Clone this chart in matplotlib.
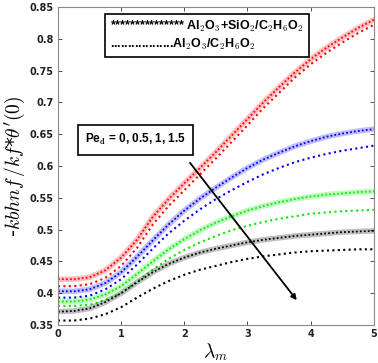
import numpy as np
import matplotlib
matplotlib.use('Agg')
import matplotlib.pyplot as plt

# ---------------------------------------------------------------
# data (lambda_m on x, -kbhnf/kf*theta'(0) on y)
# ---------------------------------------------------------------
lam = np.arange(0, 5.01, 0.25)

# hybrid Al2O3+SiO2/C2H6O2 (star curves), Pe_d = 0, 0.5, 1, 1.5
hyb_pe0 = [0.422, 0.422, 0.425, 0.436, 0.456, 0.484, 0.520, 0.548, 0.573, 0.597, 0.622,
           0.648, 0.674, 0.700, 0.724, 0.747, 0.768, 0.786, 0.802, 0.817, 0.830]
hyb_pe05 = [0.403, 0.403, 0.406, 0.416, 0.433, 0.457, 0.483, 0.508, 0.530, 0.549, 0.566,
            0.582, 0.597, 0.610, 0.621, 0.631, 0.639, 0.646, 0.651, 0.655, 0.658]
hyb_pe1 = [0.387, 0.387, 0.390, 0.398, 0.411, 0.430, 0.450, 0.469, 0.485, 0.499, 0.511,
           0.521, 0.530, 0.537, 0.543, 0.548, 0.552, 0.555, 0.557, 0.559, 0.560]
hyb_pe15 = [0.371, 0.372, 0.376, 0.386, 0.400, 0.417, 0.433, 0.446, 0.456, 0.464, 0.470,
            0.475, 0.480, 0.484, 0.487, 0.490, 0.492, 0.494, 0.496, 0.497, 0.498]

# mono Al2O3/C2H6O2 (dotted curves)
mono_pe0 = [0.411, 0.411, 0.414, 0.424, 0.443, 0.471, 0.508, 0.537, 0.562, 0.587, 0.612,
            0.638, 0.664, 0.691, 0.715, 0.739, 0.760, 0.778, 0.794, 0.809, 0.822]
mono_pe05 = [0.393, 0.393, 0.396, 0.406, 0.422, 0.445, 0.470, 0.494, 0.514, 0.532, 0.548,
             0.562, 0.575, 0.587, 0.597, 0.606, 0.613, 0.619, 0.624, 0.628, 0.632]
mono_pe1 = [0.380, 0.380, 0.382, 0.389, 0.400, 0.418, 0.437, 0.454, 0.468, 0.480, 0.490,
            0.499, 0.506, 0.512, 0.517, 0.521, 0.525, 0.527, 0.529, 0.530, 0.531]
mono_pe15 = [0.357, 0.357, 0.360, 0.367, 0.378, 0.393, 0.407, 0.419, 0.429, 0.437, 0.443,
             0.449, 0.454, 0.458, 0.461, 0.464, 0.466, 0.467, 0.468, 0.469, 0.469]

colors = ['#ff0000', '#0000ff', '#00ee00', '#000000']
hyb = [hyb_pe0, hyb_pe05, hyb_pe1, hyb_pe15]
mono = [mono_pe0, mono_pe05, mono_pe1, mono_pe15]

plt.rcParams['mathtext.fontset'] = 'cm'

fig = plt.figure(figsize=(3.78, 3.63), dpi=100)
ax = fig.add_axes([0.1534, 0.1047, 0.8356, 0.876])

for c, ys, ym in zip(colors, hyb, mono):
    # star curve: dense markers look like a soft band
    ax.plot(lam, ys, '-', color=c, linewidth=4.0, alpha=0.25, solid_capstyle='round')
    ax.plot(lam, ys, linestyle=(0, (1, 1.2)), color=c, linewidth=1.3)
    ax.plot(lam, ym, linestyle=(0, (1, 1.6)), color=c, linewidth=1.5)

ax.set_xlim(0, 5)
ax.set_ylim(0.35, 0.85)
ax.set_xticks(range(6))
yt = np.arange(0.35, 0.851, 0.05)
ax.set_yticks(yt)
ax.set_yticklabels(['%g' % round(v, 2) for v in yt])
ax.tick_params(direction='in', length=3, width=0.6, top=True, right=True,
               labelsize=7, colors='#333333', pad=3)
for lbl in ax.get_xticklabels() + ax.get_yticklabels():
    lbl.set_fontweight('bold')
    lbl.set_color('#222222')
for s in ax.spines.values():
    s.set_color('#888888')
    s.set_linewidth(0.8)

ax.set_xlabel(r'$\lambda_m$', fontsize=14, labelpad=2)
ax.set_ylabel(r"-$kbhnf\,/kf$*$\theta'(0)$", fontsize=14, labelpad=2)

# legend typed as a text box
leg_txt = ("*************** Al$_\\mathbf{2}$O$_\\mathbf{3}$+SiO$_\\mathbf{2}$/C$_\\mathbf{2}$H$_\\mathbf{6}$O$_\\mathbf{2}$\n"
           "..................Al$_\\mathbf{2}$O$_\\mathbf{3}$/C$_\\mathbf{2}$H$_\\mathbf{6}$O$_\\mathbf{2}$")
ax.text(0.165, 0.963, leg_txt, transform=ax.transAxes, ha='left', va='top',
        fontsize=9, fontweight='bold', family='Liberation Sans', linespacing=1.3,
        bbox=dict(boxstyle='square,pad=0.4', facecolor='white', edgecolor='black',
                  linewidth=1.2))

ax.text(0.085, 0.582, r'Pe$_\mathbf{d}$ = 0, 0.5, 1, 1.5', transform=ax.transAxes,
        ha='left', va='center', fontsize=8.5, fontweight='bold', family='Liberation Sans',
        bbox=dict(boxstyle='square,pad=0.6', facecolor='white', edgecolor='black',
                  linewidth=1.2))

ax.annotate('', xy=(3.78, 0.389), xytext=(2.09, 0.605),
            arrowprops=dict(arrowstyle='-|>', color='black', lw=1.3,
                            mutation_scale=8, shrinkA=0, shrinkB=0))

fig.savefig('out.png', dpi=100)
